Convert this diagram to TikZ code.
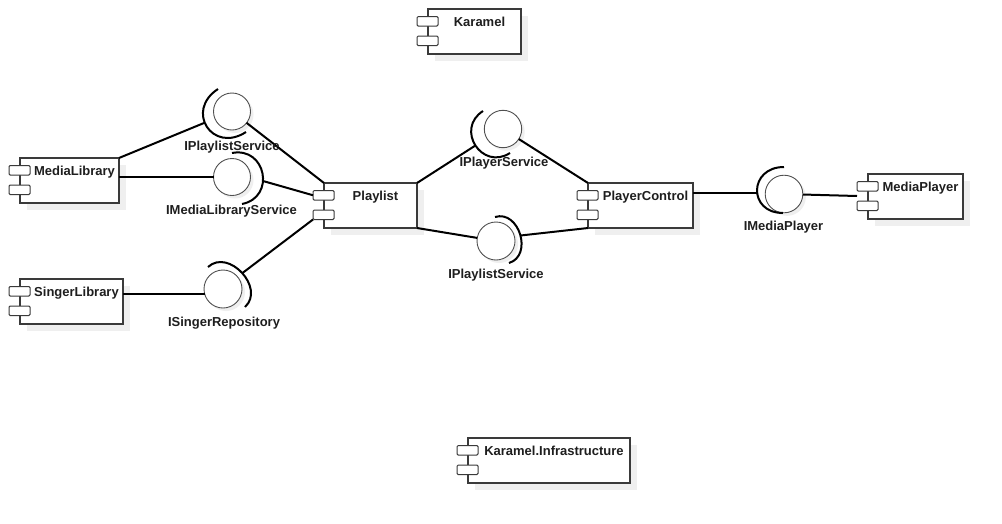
\documentclass[tikz,border=0pt]{standalone}
\usepackage{fontspec}
\setmainfont{Liberation Sans}
\usetikzlibrary{calc}
\definecolor{linegray}{HTML}{3A3A3A}
\definecolor{ballgray}{HTML}{505050}
\definecolor{shadegray}{HTML}{EFEFEF}
\definecolor{textgray}{HTML}{1E1E1E}
\newcommand{\umlcomp}[5]{%
  \fill[shadegray] (#2+7,#3+7) rectangle ++(#4,45);
  \node[compbox, minimum width=#4pt] (#1) at (#2,#3) {};
  \node[tabbox] (#1-t1) at ($(#1.north west)+(-11,7.5)$) {};
  \node[tabbox] (#1-t2) at ($(#1.north west)+(-11,27)$) {};
  \node[lbl, anchor=base] (#1-l) at ($(#1.north)+(5,17.5)$) {#5};
}
\newcommand{\iball}[4]{%
  \fill[shadegray] (#2+3,#3+3) circle[radius=#4];
  \node[ball, minimum size=2*#4pt] (#1) at (#2,#3) {};
}
\begin{document}
\begin{tikzpicture}[x=1pt,y=-1pt,
  compbox/.style={draw=linegray, fill=white, line width=1.1pt, minimum height=45pt, inner sep=0pt, outer sep=0pt, anchor=north west},
  tabbox/.style={draw=linegray, fill=white, line width=1pt, minimum width=21pt, minimum height=9.5pt, inner sep=0pt, outer sep=0pt, anchor=north west, rounded corners=1.2pt},
  lbl/.style={font=\bfseries\fontsize{13}{15}\selectfont, text=textgray, inner sep=0pt},
  ball/.style={circle, draw=ballgray, fill=white, line width=0.9pt, inner sep=0pt, outer sep=0pt},
  socket/.style={draw=black, line width=2pt},
  conn/.style={draw=black, line width=2pt}]
\useasboundingbox (0,0) rectangle (1002,523);
\fill[white] (0,0) rectangle (1002,523);

% components
\umlcomp{kar}{428}{9}{93}{Karamel}
\umlcomp{ml}{20}{158}{99}{MediaLibrary}
\umlcomp{sl}{20}{279}{103}{SingerLibrary}
\umlcomp{pl}{324}{183}{93}{Playlist}
\umlcomp{pc}{588}{183}{105}{PlayerControl}
\umlcomp{mp}{868}{174}{95}{MediaPlayer}
\umlcomp{ki}{468}{438}{162}{Karamel.Infrastructure}

% interface balls
\iball{A}{232}{111.5}{18.5}
\iball{B}{232}{177}{18.5}
\iball{C}{223}{289}{19}
\iball{D}{503}{129}{18.7}
\iball{E}{496}{241}{19}
\iball{F}{784}{194}{18.8}

% sockets
\draw[socket] (218,89) .. controls (184.5,110.8) and (212.5,153.8) .. (246,132);
\draw[socket] (232,153) .. controls (266,146.3) and (276,197.3) .. (242,204);
\draw[socket] (208,267) .. controls (228.6,248) and (265.6,288) .. (245,307);
\draw[socket] (483,111) .. controls (454.9,129) and (481.9,171) .. (510,153);
\draw[socket] (495,217) .. controls (519.2,209.6) and (533.2,255.6) .. (509,263);
\draw[socket] (784,167) .. controls (748.7,167) and (747.7,213) .. (783,213);

% connection points on sockets
\coordinate (As) at (204,123);
\coordinate (Bs) at (263,181);
\coordinate (Cs) at (242.5,273);
\coordinate (Cw) at (204.7,294);
\coordinate (Ds) at (475.4,145.5);
\coordinate (Es) at (520.5,235.5);
\coordinate (Fs) at (757.3,193);

% connectors
\draw[conn] (ml.north east) -- (As);
\draw[conn] (A) -- (pl.north west);
\draw[conn] (ml.east |- B) -- (B);
\draw[conn] (Bs) -- (pl-t1.west);
\draw[conn] (sl.east |- Cw) -- (Cw);
\draw[conn] (Cs) -- (pl-t2.south west);
\draw[conn] (pl.north east) -- (Ds);
\draw[conn] (D) -- (pc.north west);
\draw[conn] (pl.south east) -- (E);
\draw[conn] (Es) -- (pc.south west);
\draw[conn] (pc.east |- Fs) -- (Fs);
\draw[conn] (F) -- ($(mp-t1.south west)!0.5!(mp-t2.north west)$);

% interface labels
\node[lbl, anchor=base] (A-l) at (232,150) {IPlaylistService};
\node[lbl, anchor=base] (B-l) at (231.5,214) {IMediaLibraryService};
\node[lbl, anchor=base] (C-l) at (224,326) {ISingerRepository};
\node[lbl, anchor=base] (D-l) at (504,166) {IPlayerService};
\node[lbl, anchor=base] (E-l) at (496,278) {IPlaylistService};
\node[lbl, anchor=base] (F-l) at (783.5,230) {IMediaPlayer};
\end{tikzpicture}
\end{document}
